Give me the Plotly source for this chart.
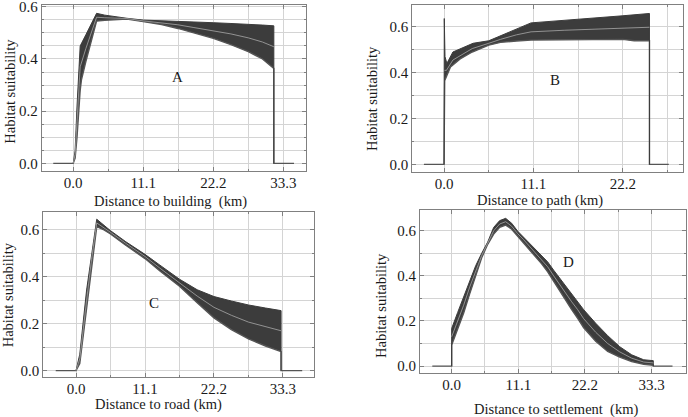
import plotly.graph_objects as go

# ---------------- data ----------------
# Panel A: distance to building
a_lo_x = [0, 0.3, 0.6, 1.1, 1.3, 2.0, 3.0, 3.7, 5.0, 7.0, 8.5, 11.1, 14, 16.6, 19, 22.2, 25, 27.75, 30, 31.8]
a_lo_y = [0, 0.02, 0.10, 0.28, 0.32, 0.39, 0.48, 0.545, 0.548, 0.551, 0.553, 0.543, 0.532, 0.517, 0.50, 0.479, 0.455, 0.428, 0.40, 0.364]
a_hi_x = [0, 0.3, 0.6, 1.1, 2.0, 3.0, 3.7, 5.0, 7.0, 8.5, 11.1, 14, 16.6, 19, 22.2, 25, 27.75, 30, 31.8]
a_hi_y = [0, 0.05, 0.22, 0.45, 0.493, 0.541, 0.575, 0.568, 0.56, 0.556, 0.549, 0.547, 0.545, 0.542, 0.539, 0.536, 0.534, 0.530, 0.527]
a_mean_x = [0, 0.3, 0.6, 1.1, 2.0, 3.0, 3.7, 5.0, 7.0, 8.5, 11.1, 14, 16.6, 19, 22.2, 25, 27.75, 30, 31.8]
a_mean_y = [0, 0.035, 0.16, 0.37, 0.44, 0.51, 0.56, 0.558, 0.556, 0.555, 0.546, 0.539, 0.531, 0.521, 0.509, 0.496, 0.481, 0.465, 0.447]
a_flat = [-3.17, 0, 31.8, 35.0]

# Panel B: distance to path
b_lo_x = [0, 0.08, 0.8, 2.0, 3.5, 5.55, 7.0, 9.0, 10.8, 22.2, 23.6, 25.5]
b_lo_y = [0, 0.365, 0.425, 0.46, 0.49, 0.52, 0.532, 0.538, 0.542, 0.545, 0.539, 0.539]
b_hi_x = [0, 0.03, 0.12, 0.35, 1.1, 3.2, 3.6, 5.55, 7.0, 10.8, 22.2, 25.5]
b_hi_y = [0, 0.636, 0.47, 0.44, 0.49, 0.52, 0.528, 0.539, 0.56, 0.617, 0.648, 0.658]
b_mean_x = [0.06, 0.3, 1.1, 3.5, 5.55, 7, 9, 10.8, 15, 22.2, 25.5]
b_mean_y = [0.41, 0.41, 0.455, 0.505, 0.528, 0.545, 0.565, 0.578, 0.585, 0.595, 0.598]
b_flat = [-2.5, 0, 25.5, 27.9]

# Panel C: distance to road
c_x = [0, 0.6, 1.7, 2.5, 3.33, 4.5, 5.55, 8, 11.1, 13.5, 16.65, 19.5, 22.2, 25, 27.75, 30.5, 33.0]
c_lo_y = [0, 0.03, 0.26, 0.45, 0.614, 0.6, 0.583, 0.535, 0.478, 0.425, 0.36, 0.29, 0.225, 0.175, 0.135, 0.105, 0.081]
c_hi_y = [0, 0.07, 0.344, 0.5, 0.646, 0.62, 0.597, 0.55, 0.496, 0.45, 0.39, 0.345, 0.316, 0.297, 0.28, 0.267, 0.256]
c_mean_y = [0, 0.05, 0.3, 0.475, 0.63, 0.61, 0.59, 0.543, 0.487, 0.437, 0.375, 0.318, 0.27, 0.236, 0.207, 0.186, 0.17]
c_flat = [-3.27, 0, 33.0, 36.4]

# Panel D: distance to settlement
d_x = [0, 1, 2, 3, 4, 5, 6, 7, 8, 9, 10, 11, 12, 13, 14, 15, 16, 17, 18, 19, 20, 21, 22, 24, 26, 28, 30, 32, 33.6]
d_lo_y = [0.093, 0.165, 0.235, 0.32, 0.40, 0.48, 0.54, 0.585, 0.615, 0.625, 0.607, 0.576, 0.549, 0.517, 0.485,
          0.453, 0.418, 0.375, 0.33, 0.287, 0.25, 0.212, 0.17, 0.11, 0.065, 0.04, 0.02, 0.008, 0.004]
d_hi_y = [0.167, 0.238, 0.305, 0.38, 0.445, 0.50, 0.55, 0.615, 0.645, 0.655, 0.633, 0.598, 0.571, 0.543, 0.515,
          0.487, 0.462, 0.425, 0.39, 0.353, 0.32, 0.288, 0.25, 0.19, 0.135, 0.086, 0.05, 0.028, 0.024]
d_mean_y = [0.13, 0.2, 0.27, 0.35, 0.422, 0.49, 0.545, 0.6, 0.63, 0.64, 0.62, 0.587, 0.56, 0.53, 0.5,
            0.47, 0.44, 0.4, 0.36, 0.32, 0.285, 0.25, 0.21, 0.15, 0.1, 0.063, 0.035, 0.018, 0.014]
d_flat = [-3.23, 0, 33.6, 36.8]

x_titles = ["Distance to building&nbsp;&nbsp;(km)", "Distance to path (km)", "Distance to road (km)",
            "Distance to settlement&nbsp;&nbsp;(km)"]
y_title = "Habitat suitability"
panel_letters = ["A", "B", "C", "D"]
letter_pos = [(16.55, 0.332), (13.75, 0.37), (12.6, 0.29), (19.4, 0.462)]

# ---------------- layout geometry ----------------
W, H = 688, 417
boxes = [  # left, right, top, bottom in pixels
    (41.7, 306.0, 4.7, 170.7),
    (412.3, 683.3, 5.0, 171.7),
    (43.3, 314.0, 211.7, 376.7),
    (420.0, 685.7, 210.0, 373.3),
]
x_ranges = [[-5.0, 36.9], [-3.94, 29.7], [-5.27, 38.3], [-5.28, 39.0]]
y_ranges = [[-0.028, 0.608], [-0.032, 0.695], [-0.026, 0.678], [-0.032, 0.692]]
y_minor = [0.05, 0.1, 0.1, 0.1]
x_title_px = [(170, 201.5), (540, 200), (158.7, 404.5), (555.7, 409)]  # centre of x titles (pixels)
y_title_px = [(10, 91.7), (372, 99), (8.3, 295), (381, 306)]           # centre of y titles (pixels)

BAND = "#3c3c3c"
MEAN = "#a8a8a8"
FLAT = "#555555"
GRID = "#d4d4d4"
FRAME = "#808080"
FONT = "Liberation Serif"
TXT = "#1a1a1a"

panels = [
    (a_lo_x, a_lo_y, a_hi_x, a_hi_y, a_mean_x, a_mean_y, a_flat),
    (b_lo_x, b_lo_y, b_hi_x, b_hi_y, b_mean_x, b_mean_y, b_flat),
    (c_x, c_lo_y, c_x, c_hi_y, c_x, c_mean_y, c_flat),
    (d_x, d_lo_y, d_x, d_hi_y, d_x, d_mean_y, d_flat),
]

fig = go.Figure()
layout = {}
annotations = []
for i, (lx, ly, hx, hy, mx, my, flat) in enumerate(panels):
    n = "" if i == 0 else str(i + 1)
    xa, ya = "x" + n, "y" + n
    left, right, top, bottom = boxes[i]
    lo_x = [flat[0], flat[1]] + list(lx) + [flat[2], flat[3]]
    lo_y = [0, 0] + list(ly) + [0, 0]
    hi_x = [flat[1]] + list(hx) + [flat[2]]
    hi_y = [0] + list(hy) + [0]
    fig.add_trace(go.Scatter(x=lo_x, y=lo_y, mode="lines", xaxis=xa, yaxis=ya,
                             line=dict(color=FLAT, width=1.4), showlegend=False, hoverinfo="skip"))
    fig.add_trace(go.Scatter(x=hi_x, y=hi_y, mode="lines", xaxis=xa, yaxis=ya, fill="tonexty",
                             fillcolor=BAND, line=dict(color=BAND, width=1), showlegend=False, hoverinfo="skip"))
    fig.add_trace(go.Scatter(x=mx, y=my, mode="lines", xaxis=xa, yaxis=ya,
                             line=dict(color=MEAN, width=0.8), showlegend=False))
    common = dict(showline=True, linecolor=FRAME, linewidth=1, mirror="ticks",
                  ticks="inside", ticklen=4, tickcolor=FRAME, tickwidth=1,
                  showgrid=True, gridcolor=GRID, gridwidth=1, zeroline=False,
                  tickfont=dict(family=FONT, size=15, color=TXT), tickformat=".1f",
                  ticklabeloverflow="allow", automargin=False)
    layout["xaxis" + n] = dict(common, domain=[left / W, right / W], range=x_ranges[i], anchor=ya,
                               tick0=0, dtick=11.1, ticklabelstandoff=-2,
                               minor=dict(dtick=5.55, tick0=0, showgrid=True, gridcolor=GRID,
                                          ticks="inside", ticklen=2, tickcolor=FRAME))
    layout["yaxis" + n] = dict(common, domain=[1 - bottom / H, 1 - top / H], range=y_ranges[i], anchor=xa,
                               tick0=0, dtick=0.2,
                               minor=dict(dtick=y_minor[i], tick0=0, showgrid=True, gridcolor=GRID,
                                          ticks="inside", ticklen=2, tickcolor=FRAME))
    # panel letter
    annotations.append(dict(x=letter_pos[i][0], y=letter_pos[i][1], xref=xa, yref=ya, text=panel_letters[i],
                            showarrow=False, font=dict(family=FONT, size=15, color=TXT)))
    # axis titles
    tx, ty = x_title_px[i]
    annotations.append(dict(x=tx / W, y=1 - ty / H, xref="paper", yref="paper", text=x_titles[i],
                            xanchor="center", yanchor="middle", showarrow=False,
                            font=dict(family=FONT, size=14.5, color=TXT)))
    tx, ty = y_title_px[i]
    annotations.append(dict(x=tx / W, y=1 - ty / H, xref="paper", yref="paper", text=y_title,
                            xanchor="center", yanchor="middle", showarrow=False, textangle=-90,
                            font=dict(family=FONT, size=14.5, color=TXT)))

fig.update_layout(**layout)
fig.update_layout(width=W, height=H, autosize=False, margin=dict(l=0, r=0, t=0, b=0, pad=0),
                  paper_bgcolor="white", plot_bgcolor="white", annotations=annotations,
                  font=dict(family=FONT))
fig.write_html("out.html", config={"displayModeBar": False},
               post_script="document.body.style.margin='0';")
